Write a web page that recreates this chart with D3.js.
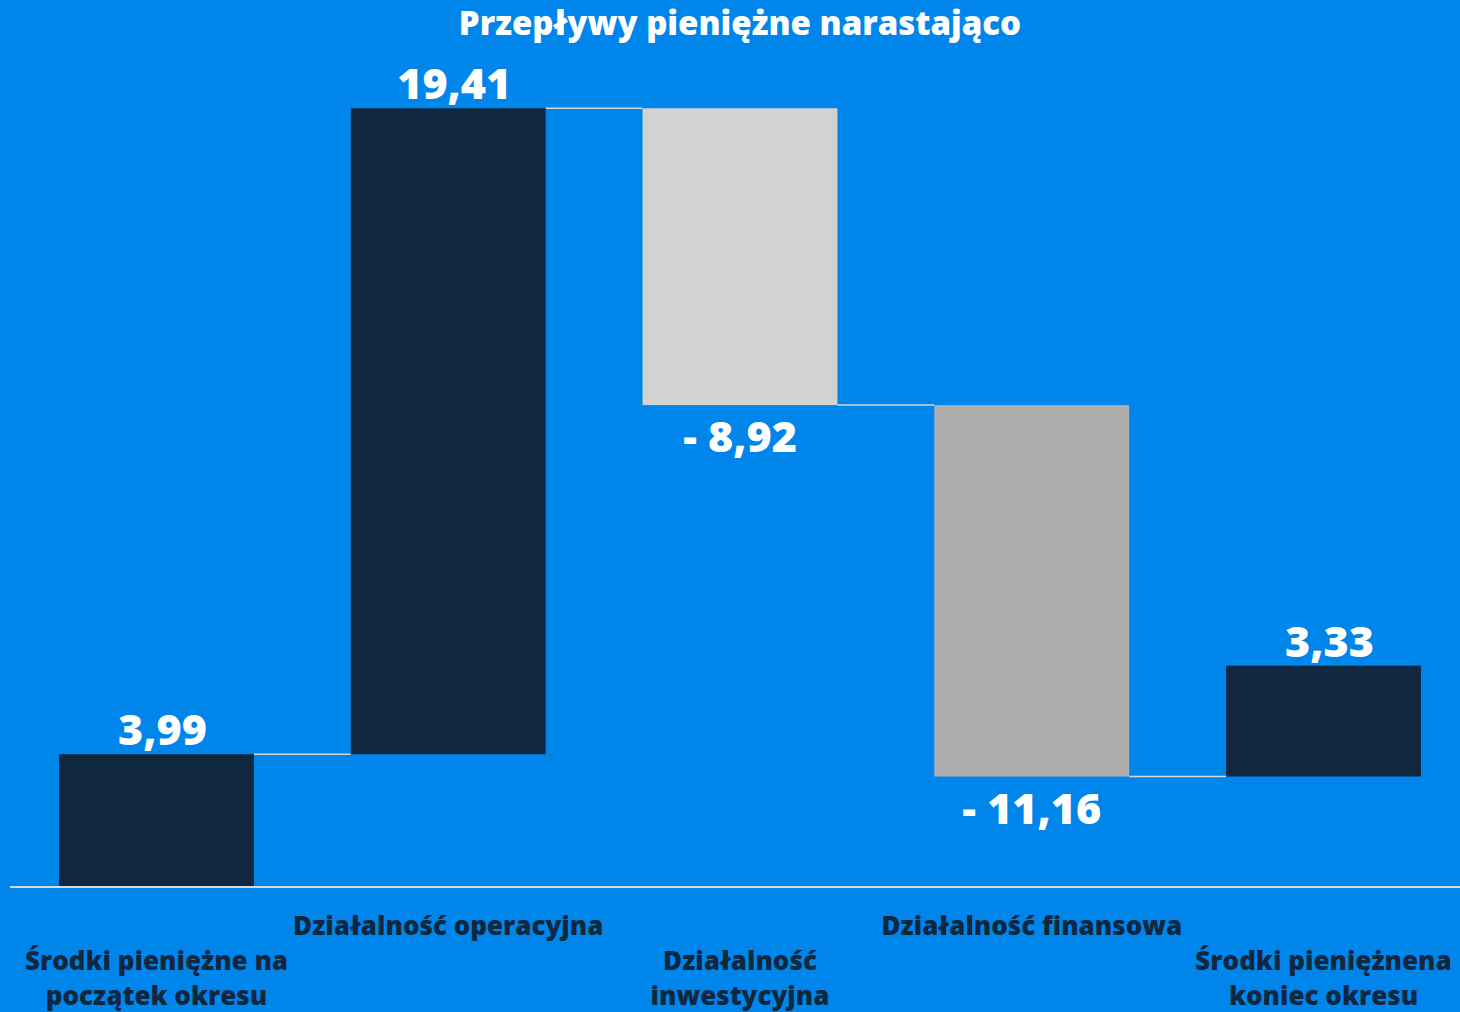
<!DOCTYPE html>
<html>
<head>
<meta charset="utf-8">
<script src="https://cdn.jsdelivr.net/npm/d3@7"></script>
<style>
  html, body { margin: 0; padding: 0; background: #0086EB; }
  svg { display: block; }
  text { font-family: "Open Sans", "Lato", sans-serif; font-weight: 800; }
</style>
</head>
<body>
<svg id="chart" width="1460" height="1012"></svg>
<script>
var categories = ["Środki pieniężne na|początek okresu", "Działalność operacyjna", "Działalność|inwestycyjna", "Działalność finansowa", "Środki pieniężnena|koniec okresu"]
var values = [3.99, 19.41, -8.92, -11.16, 3.33]
var valueLabels = ["3,99", "19,41", "- 8,92", "- 11,16", "3,33"]
var barColors = ["#0F2840", "#0F2840", "#D2D2D2", "#AEAEAE", "#0F2840"]
var labelRow = [1, 0, 1, 0, 1]

var W = 1460, H = 1012
var baseY = 887
var svg = d3.select("#chart")

// running totals, every bar starts where the previous ended
var start = 0
var bars = values.map(function(v, i) {
  var b = {i: i, v: v, y0: start, y1: start + v}
  start += v
  return b
})

var x = d3.scaleBand()
  .domain(d3.range(categories.length))
  .range([10.6, 1469.4])
  .paddingInner(0.332)
  .paddingOuter(0.166)

var y = d3.scaleLinear()
  .domain([0, 25])
  .range([baseY, baseY - 25 * 33.28])

// title
svg.append("text")
  .attr("x", 740).attr("y", 35)
  .attr("text-anchor", "middle")
  .attr("fill", "white")
  .attr("font-size", "33px")
  .text("Przepływy pieniężne narastająco")

// connectors
svg.append("g").selectAll("line")
  .data(bars.slice(0, -1))
  .enter().append("line")
  .attr("x1", function(d) { return x(d.i) + x.bandwidth() })
  .attr("x2", function(d) { return x(d.i + 1) })
  .attr("y1", function(d) { return y(d.y1) })
  .attr("y2", function(d) { return y(d.y1) })
  .attr("stroke", "#D6D6D6")
  .attr("stroke-width", 1.5)

// bars
svg.append("g").selectAll("rect")
  .data(bars)
  .enter().append("rect")
  .attr("x", function(d) { return x(d.i) })
  .attr("width", x.bandwidth())
  .attr("y", function(d) { return y(Math.max(d.y0, d.y1)) })
  .attr("height", function(d) { return Math.abs(y(d.y0) - y(d.y1)) })
  .attr("fill", function(d) { return barColors[d.i] })

// baseline
svg.append("line")
  .attr("x1", 10).attr("x2", W)
  .attr("y1", baseY).attr("y2", baseY)
  .attr("stroke", "#D9D9D9")
  .attr("stroke-width", 2)

// value labels
svg.append("g").selectAll("text")
  .data(bars)
  .enter().append("text")
  .attr("x", function(d) { return x(d.i) + x.bandwidth() / 2 + (d.v > 0 ? 6 : 0) })
  .attr("y", function(d) {
    return d.v > 0 ? y(Math.max(d.y0, d.y1)) - 9 : y(Math.min(d.y0, d.y1)) + 47
  })
  .attr("text-anchor", "middle")
  .attr("fill", "white")
  .attr("font-size", "43px")
  .text(function(d) { return valueLabels[d.i] })

// category labels, staggered in two rows
var cat = svg.append("g").selectAll("text")
  .data(categories)
  .enter().append("text")
  .attr("text-anchor", "middle")
  .attr("fill", "#0F2840")
  .attr("font-size", "26px")
  .attr("transform", function(d, i) {
    return "translate(" + (x(i) + x.bandwidth() / 2) + "," + (labelRow[i] ? 970 : 935) + ")"
  })

cat.selectAll("tspan")
  .data(function(d) { return d.split("|") })
  .enter().append("tspan")
  .attr("x", 0)
  .attr("dy", function(d, j) { return j ? 35 : 0 })
  .text(function(d) { return d })
</script>
</body>
</html>
